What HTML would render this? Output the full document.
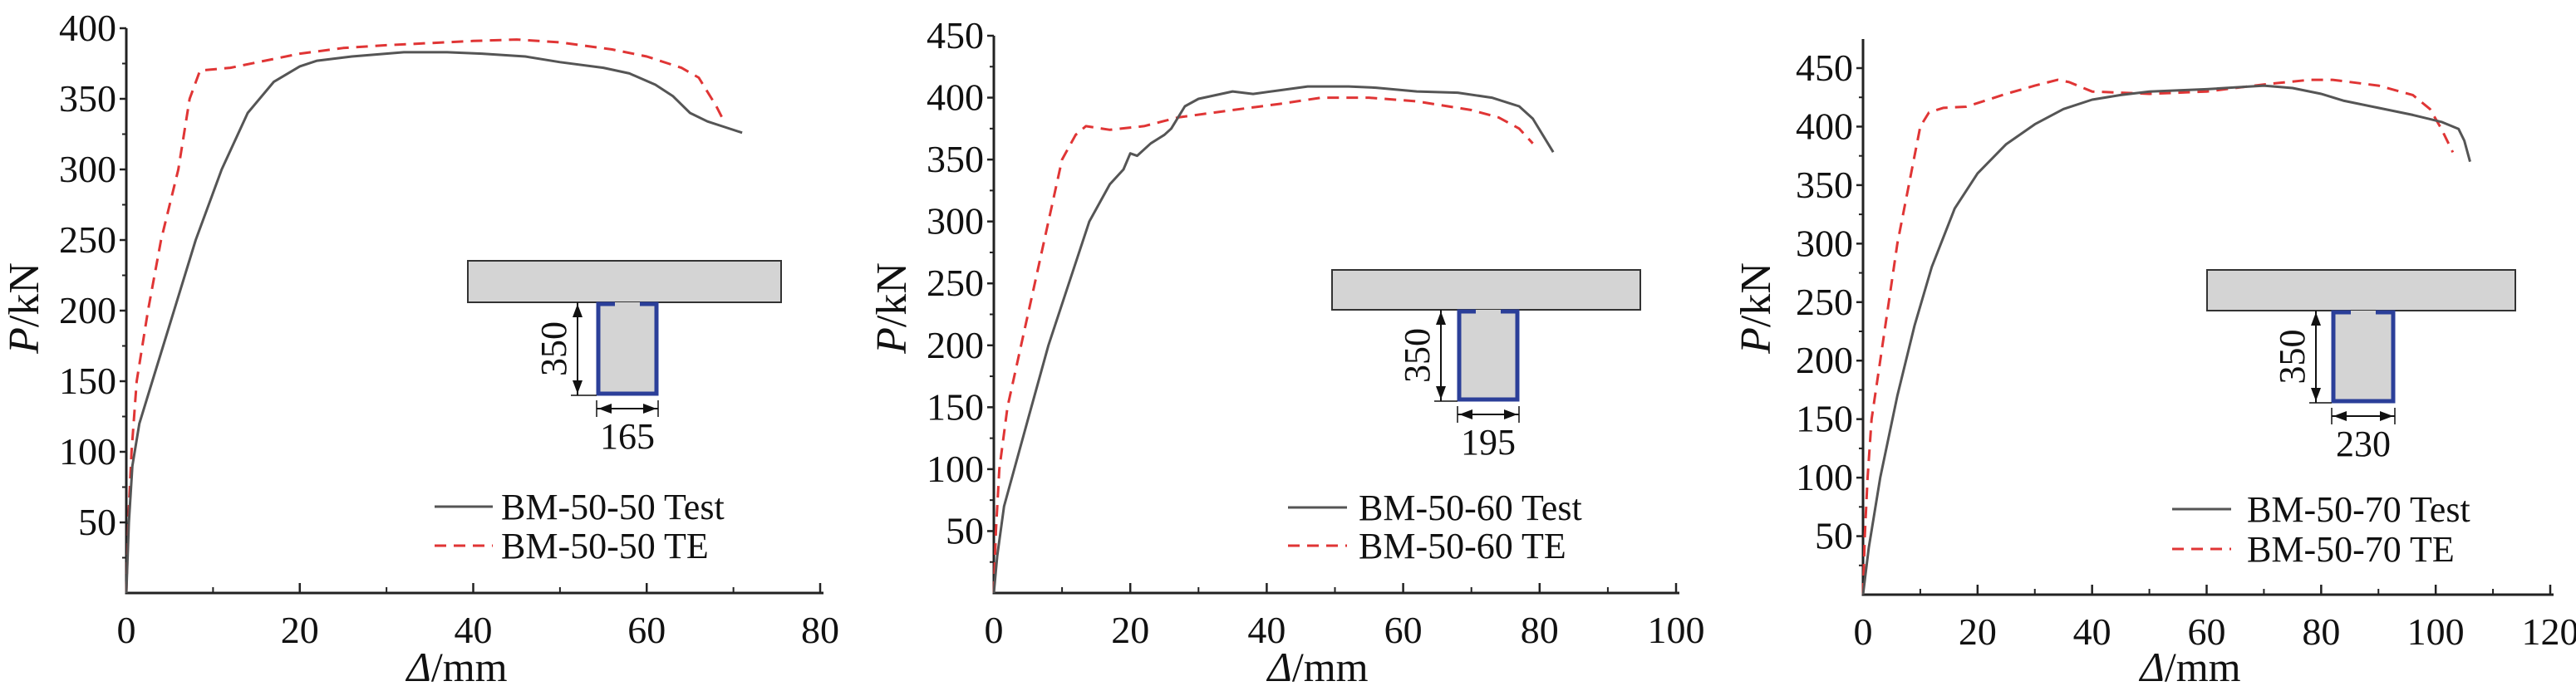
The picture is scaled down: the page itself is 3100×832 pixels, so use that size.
<!DOCTYPE html>
<html><head><meta charset="utf-8">
<style>
html,body{margin:0;padding:0;background:#fff;}
svg{display:block;font-family:"Liberation Serif",serif;}
</style></head>
<body>
<svg id="fig" width="3100" height="832" viewBox="0 0 3100 832" xmlns="http://www.w3.org/2000/svg"></svg>
<script>
// ---- Chart 1 data ----
const c1TestX=[0,0.3,0.7,1.5,3,5,8,11,14,17,20,22,26,32,37,41,46,50,55,58,61,63,65,67,69,71];
const c1TestY=[0,50,90,120,150,190,250,300,340,362,373,377,380,383,383,382,380,376,372,368,360,352,340,334,330,326];
const c1TeX=[0,0.3,0.6,1.2,2.5,4,6,7.3,8.5,12,20,25,30,40,45,50,56,60,64,66,68,69];
const c1TeY=[0,60,100,150,200,250,300,350,370,372,382,386,388,391,392,390,385,380,372,365,345,333];
const c1XTicks=[0,20,40,60,80];
const c1YTicks=[50,100,150,200,250,300,350,400];
// ---- Chart 2 data ----
const c2TestX=[0,0.5,1.5,3,5,8,11,14,17,19,20,21,23,25,26,28,30,35,38,42,46,52,56,62,68,73,77,79,82];
const c2TestY=[0,30,70,100,140,200,250,300,330,342,355,353,363,370,375,393,399,405,403,406,409,409,408,405,404,400,393,383,356];
const c2TeX=[0,0.3,0.8,2,4,6,8,10,12,13.5,17,22,27,35,42,48,55,62,70,74,77,79];
const c2TeY=[0,50,100,150,200,250,300,350,370,377,374,377,384,390,395,400,400,397,390,384,375,363];
const c2XTicks=[0,20,40,60,80,100];
const c2YTicks=[50,100,150,200,250,300,350,400,450];
// ---- Chart 3 data ----
const c3TestX=[0,1,3,6,9,12,16,20,25,30,35,40,45,50,60,70,75,80,84,90,96,101,104,105,106];
const c3TestY=[0,40,100,170,230,280,330,360,385,402,415,423,427,430,432,435,433,428,422,416,410,404,398,388,370];
const c3TeX=[0,0.3,0.8,1.5,3,4.5,6,8,10,11.5,14,18,25,30,34,36,40,50,60,70,78,82,90,96,99,101,103];
const c3TeY=[0,50,100,150,200,250,300,350,400,412,416,417,428,435,440,438,430,428,430,436,440,440,435,427,415,398,378];
const c3XTicks=[0,20,40,60,80,100,120];
const c3YTicks=[50,100,150,200,250,300,350,400,450];

const NS="http://www.w3.org/2000/svg";
const svg=document.getElementById('fig');
function mk(tag,attrs,parent){const e=document.createElementNS(NS,tag);for(const k in attrs)e.setAttribute(k,attrs[k]);(parent||svg).appendChild(e);return e;}

function chart(cfg){
  const g=mk('g',{});
  
  
  const sx=v=>cfg.x0+(v-cfg.xmin)/(cfg.xmax-cfg.xmin)*(cfg.x1-cfg.x0);
  const sy=v=>cfg.y0-(v)/(cfg.ymaxV)*(cfg.y0-cfg.yTopV);
  const ax=mk('path',{d:`M${cfg.x0},${cfg.axTop} L${cfg.x0},${cfg.y0} L${cfg.x1+4},${cfg.y0}`,fill:'none',stroke:'#222','stroke-width':3},g);
  
  
  const xs=cfg.xTicks;
  for(let i=0;i<xs.length;i++){
    const x=sx(xs[i]);
    const t=mk('line',{x1:x,x2:x,y1:cfg.y0,y2:cfg.y0-12,stroke:'#222','stroke-width':2.5},g);
    
    
    if(i<xs.length-1){const xm=sx((xs[i]+xs[i+1])/2);mk('line',{x1:xm,x2:xm,y1:cfg.y0,y2:cfg.y0-7,stroke:'#222','stroke-width':2},g);}
    const l=mk('text',{x:x,y:cfg.y0+60,'font-size':46,'text-anchor':'middle',fill:'#111'},g);
    l.textContent=xs[i];
    
    
  }
  const ys=cfg.yTicks;
  for(let i=0;i<ys.length;i++){
    const y=sy(ys[i]);
    const t=mk('line',{x1:cfg.x0,x2:cfg.x0-8,y1:y,y2:y,stroke:'#222','stroke-width':2.5},g);
    
    
    const ym=sy(ys[i]-25);
    mk('line',{x1:cfg.x0,x2:cfg.x0-5,y1:ym,y2:ym,stroke:'#222','stroke-width':2},g);
    const l=mk('text',{x:cfg.x0-12,y:y+15,'font-size':46,'text-anchor':'end',fill:'#111'},g);
    l.textContent=ys[i];
    
    
  }
  const yt=mk('text',{x:0,y:0,'font-size':52,'text-anchor':'middle',fill:'#111',transform:`translate(${cfg.ylabX},${cfg.ylabY}) rotate(-90)`},g);
  yt.innerHTML='<tspan font-style="italic">P</tspan>/kN';
  
  
  const xt=mk('text',{x:cfg.xlabX,y:820,'font-size':50,'text-anchor':'middle',fill:'#111'},g);
  xt.innerHTML='<tspan font-style="italic">Δ</tspan>/mm';
  
  
  const ins=cfg.inset;
  const ig=mk('g',{},g);
  
  
  mk('rect',{x:ins.sx0,y:ins.sy0,width:ins.sx1-ins.sx0,height:ins.sy1-ins.sy0,fill:'#d4d4d4',stroke:'#333','stroke-width':2},ig);
  mk('rect',{x:ins.wx0,y:ins.sy1,width:ins.wx1-ins.wx0,height:ins.wy1-ins.sy1,fill:'#d4d4d4'},ig);
  const cx=(ins.wx0+ins.wx1)/2;
  mk('path',{d:`M${cx-15},${ins.sy1+2} L${ins.wx0+2},${ins.sy1+2} L${ins.wx0+2},${ins.wy1-2} L${ins.wx1-2},${ins.wy1-2} L${ins.wx1-2},${ins.sy1+2} L${cx+15},${ins.sy1+2}`,fill:'none',stroke:'#2b3f99','stroke-width':5},ig);
  const dx=ins.dimX;
  mk('line',{x1:dx,x2:dx,y1:ins.sy1,y2:ins.wy1,stroke:'#111','stroke-width':2},ig);
  mk('line',{x1:dx-8,x2:ins.wx0,y1:ins.wy1,y2:ins.wy1,stroke:'#111','stroke-width':1.5},ig);
  mk('path',{d:`M${dx-6},${ins.sy1+18} L${dx},${ins.sy1+2} L${dx+6},${ins.sy1+18}Z M${dx-6},${ins.wy1-18} L${dx},${ins.wy1-2} L${dx+6},${ins.wy1-18}Z`,fill:'#111'},ig);
  const hy=ins.wy1+16;
  mk('line',{x1:ins.wx0,x2:ins.wx1,y1:hy,y2:hy,stroke:'#111','stroke-width':2},ig);
  mk('line',{x1:ins.wx0,x2:ins.wx0,y1:hy-10,y2:hy+10,stroke:'#111','stroke-width':1.5},ig);
  mk('line',{x1:ins.wx1,x2:ins.wx1,y1:hy-10,y2:hy+10,stroke:'#111','stroke-width':1.5},ig);
  mk('path',{d:`M${ins.wx0+2},${hy} L${ins.wx0+18},${hy-6} L${ins.wx0+18},${hy+6}Z M${ins.wx1-2},${hy} L${ins.wx1-18},${hy-6} L${ins.wx1-18},${hy+6}Z`,fill:'#111'},ig);
  const t350=mk('text',{x:0,y:0,'font-size':44,'text-anchor':'middle',fill:'#111',transform:`translate(${dx-14},${(ins.sy1+ins.wy1)/2}) rotate(-90)`},ig);
  t350.textContent='350';
  const tw=mk('text',{x:cx,y:hy+48,'font-size':44,'text-anchor':'middle',fill:'#111'},ig);
  tw.textContent=ins.w;
  function line(xa,ya,style,name){
    let d='';for(let i=0;i<xa.length;i++)d+=(i?'L':'M')+sx(xa[i]).toFixed(1)+','+sy(ya[i]).toFixed(1);
    const p=mk('path',Object.assign({d:d,fill:'none','stroke-linejoin':'round'},style),g);
    
    
  }
  const testStyle={stroke:'#555','stroke-width':3};
  const teStyle={stroke:'#e03535','stroke-width':3,'stroke-dasharray':'14 9'};
  line(cfg.teX,cfg.teY,teStyle,'te-series');
  line(cfg.testX,cfg.testY,testStyle,'test-series');
  const lg=mk('g',{},g);
  
  
  const L=cfg.leg;
  mk('line',Object.assign({x1:L.x0,x2:L.x1,y1:L.y1,y2:L.y1},testStyle),lg);
  const a=mk('text',{x:L.tx,y:L.y1+15,'font-size':44,fill:'#111'},lg);a.textContent=cfg.label+' Test';
  
  
  mk('line',Object.assign({x1:L.x0,x2:L.x1,y1:L.y2,y2:L.y2},teStyle),lg);
  const b=mk('text',{x:L.tx,y:L.y2+15,'font-size':44,fill:'#111'},lg);b.textContent=cfg.label+' TE';
  
  
}

chart({name:'chart-bm-50-50',label:'BM-50-50',x0:152,x1:987,xmin:0,xmax:80,y0:714,yTopV:34,ymaxV:400,axTop:34,
  xTicks:c1XTicks,yTicks:c1YTicks,ylabX:46,ylabY:371,xlabX:550,
  testX:c1TestX,testY:c1TestY,teX:c1TeX,teY:c1TeY,
  inset:{sx0:563,sx1:940,sy0:314,sy1:364,wx0:718,wx1:792,wy1:476,dimX:695,w:'165'},
  leg:{x0:523,x1:593,y1:610,y2:657,tx:603}});
chart({name:'chart-bm-50-60',label:'BM-50-60',x0:1196,x1:2017,xmin:0,xmax:100,y0:714,yTopV:43,ymaxV:450,axTop:43,
  xTicks:c2XTicks,yTicks:c2YTicks,ylabX:1090,ylabY:371,xlabX:1586,
  testX:c2TestX,testY:c2TestY,teX:c2TeX,teY:c2TeY,
  inset:{sx0:1603,sx1:1974,sy0:325,sy1:373,wx0:1754,wx1:1828,wy1:483,dimX:1734,w:'195'},
  leg:{x0:1550,x1:1621,y1:611,y2:657,tx:1635}});
chart({name:'chart-bm-50-70',label:'BM-50-70',x0:2242,x1:3069,xmin:0,xmax:120,y0:716,yTopV:82,ymaxV:450,axTop:47,
  xTicks:c3XTicks,yTicks:c3YTicks,ylabX:2130,ylabY:371,xlabX:2636,
  testX:c3TestX,testY:c3TestY,teX:c3TeX,teY:c3TeY,
  inset:{sx0:2656,sx1:3027,sy0:325,sy1:374,wx0:2806,wx1:2882,wy1:485,dimX:2787,w:'230'},
  leg:{x0:2614,x1:2685,y1:613,y2:661,tx:2704}});
</script>
</body></html>
